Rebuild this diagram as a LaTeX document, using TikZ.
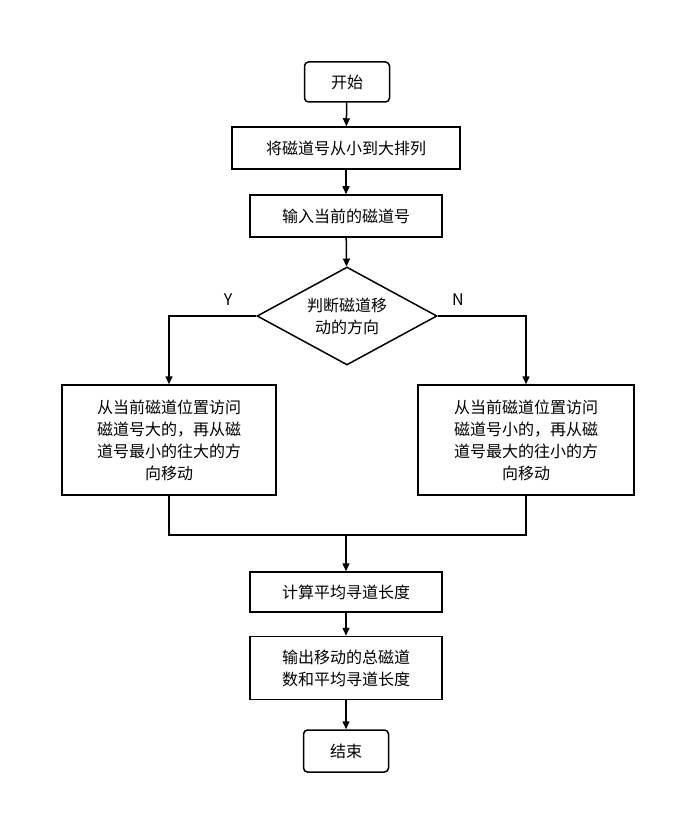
\documentclass[tikz,border=0pt]{standalone}
\usepackage{fontspec}
\setmainfont{Noto Sans CJK SC}
\usetikzlibrary{shapes.geometric,arrows.meta}
\begin{document}
\begin{tikzpicture}[x=1pt,y=-1pt,
  box/.style={draw,line width=1.5pt,minimum width=#1,inner sep=0pt,font=\fontsize{16}{22}\selectfont,align=center},
  arr/.style={line width=1.5pt,-{Triangle[length=8pt,width=7pt]}},
  ln/.style={line width=1.5pt}]
\useasboundingbox (0,0) rectangle (674,813);
\node[box=85pt,minimum height=40pt,rounded corners=4pt] (s) at (347,82) {开始};
\node[box=228pt,minimum height=42pt] (a) at (346,148) {将磁道号从小到大排列};
\node[box=192pt,minimum height=42pt] (b) at (346,216) {输入当前的磁道号};
\node[draw,line width=1.5pt,diamond,minimum width=180pt,minimum height=98pt,inner sep=0pt,aspect=1.84,font=\fontsize{16}{22}\selectfont,align=center] (d) at (347,316) {判断磁道移\\动的方向};
\node[box=214pt,minimum height=110pt] (l) at (169,440) {从当前磁道位置访问\\磁道号大的，再从磁\\道号最小的往大的方\\向移动};
\node[box=216pt,minimum height=110pt] (r) at (526,440) {从当前磁道位置访问\\磁道号小的，再从磁\\道号最大的往小的方\\向移动};
\node[box=192pt,minimum height=40pt] (c) at (346,592) {计算平均寻道长度};
\node[box=192pt,minimum height=63pt] (o) at (346,668) {输出移动的总磁道\\数和平均寻道长度};
\node[box=85pt,minimum height=42pt,rounded corners=4pt] (e) at (346,751) {结束};
\coordinate (m) at (346,535);
\draw[arr] (s) -- (a);
\draw[arr] (a) -- (b);
\draw[arr] (b) -- (d);
\draw[arr] (d.west) -| (l.north);
\draw[arr] (d.east) -| (r.north);
\draw[ln] (l.south) |- (m);
\draw[ln] (r.south) |- (m);
\draw[arr] (m) -- (c);
\draw[arr] (c) -- (o);
\draw[arr] (o) -- (e);
\node[font=\fontsize{16}{20}\selectfont] (y) at (228,300) {Y};
\node[font=\fontsize{16}{20}\selectfont] (n) at (458,300) {N};
\end{tikzpicture}
\end{document}
